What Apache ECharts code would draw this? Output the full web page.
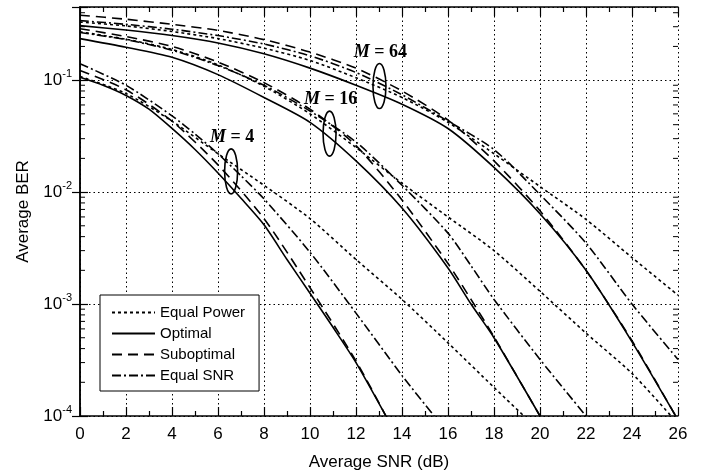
<!DOCTYPE html>
<html><head><meta charset="utf-8">
<script src="https://cdn.jsdelivr.net/npm/echarts@6/dist/echarts.min.js"></script>
<style>html,body{margin:0;padding:0;background:#fff}#c{width:702px;height:476px}</style>
</head><body><div id="c"></div>
<script>
// ---- data (x = average SNR in dB, y = average BER) ----
const schemeNames = ['Equal Power', 'Optimal', 'Suboptimal', 'Equal SNR'];

const equalPowerM4 = [[0,0.108],[2,0.076],[4,0.043],[6,0.022],[8,0.0115],[10,0.0058],[12,0.0025],[14,0.0011],[16,0.00045],[18,0.00018],[19.3,0.0001]];
const optimalM4    = [[0,0.106],[1,0.09],[2,0.073],[3,0.055],[4,0.037],[5,0.024],[6,0.0148],[7,0.0088],[8,0.0051],[9,0.0025],[10,0.00125],[11,0.00062],[12,0.0003],[13.3,0.0001]];
const suboptimalM4 = [[0,0.122],[2,0.082],[4,0.043],[6,0.0175],[8,0.0058],[10,0.0014],[12,0.00031],[13.3,0.0001]];
const equalSnrM4   = [[0,0.14],[2,0.09],[4,0.048],[5,0.033],[6,0.022],[7,0.014],[8,0.0087],[10,0.0029],[12,0.00083],[14,0.00023],[15.4,0.0001]];

const equalPowerM16 = [[0,0.27],[2,0.232],[4,0.188],[6,0.137],[8,0.088],[10,0.05],[12,0.025],[14,0.012],[16,0.006],[18,0.003],[20,0.0013],[22,0.00055],[24,0.00024],[25.7,0.0001]];
const optimalM16    = [[0,0.235],[2,0.197],[4,0.16],[6,0.112],[8,0.07],[10,0.042],[12,0.019],[14,0.0072],[16,0.0021],[17,0.001],[18,0.0005],[20,0.0001]];
const suboptimalM16 = [[0,0.288],[2,0.245],[4,0.2],[6,0.145],[8,0.095],[10,0.055],[12,0.026],[14,0.0085],[16,0.0023],[17,0.0011],[18,0.00051],[20,0.0001]];
const equalSnrM16   = [[0,0.266],[2,0.23],[4,0.185],[6,0.135],[8,0.09],[10,0.053],[12,0.028],[14,0.0115],[16,0.0043],[17,0.0022],[18,0.0011],[20,0.00032],[22,0.0001]];

const equalPowerM64 = [[0,0.33],[2,0.305],[4,0.272],[6,0.235],[8,0.193],[10,0.15],[12,0.105],[14,0.07],[16,0.042],[18,0.022],[20,0.0112],[22,0.0057],[24,0.0026],[26,0.0012]];
const optimalM64    = [[0,0.307],[2,0.28],[4,0.25],[6,0.215],[8,0.172],[10,0.128],[12,0.09],[14,0.061],[16,0.037],[18,0.0166],[20,0.0064],[22,0.002],[24,0.00046],[25.9,0.0001]];
const suboptimalM64 = [[0,0.38],[2,0.35],[4,0.315],[6,0.278],[8,0.23],[10,0.178],[12,0.128],[14,0.08],[16,0.044],[18,0.019],[20,0.0068],[22,0.002],[24,0.00047],[25.9,0.0001]];
const equalSnrM64   = [[0,0.34],[2,0.315],[4,0.285],[6,0.25],[8,0.21],[10,0.165],[12,0.117],[14,0.074],[16,0.043],[18,0.024],[20,0.0095],[22,0.0035],[24,0.001],[26,0.00032]];

const xMin = 0, xMax = 26, xStep = 2;
const yMin = 1e-4, yMax = 0.45;
const yDecades = [-4, -3, -2, -1];
const minorMultipliers = [2,3,4,5,6,7,8,9];

// annotation anchors: [snr, ber, label order]
const annotations = [[6.57, 0.0153, '4'], [10.85, 0.0333, '16'], [13.02, 0.0885, '64']];

// ---- styles ----
const DASH = {
  'Equal Power': [3, 3],
  'Optimal': 'solid',
  'Suboptimal': [10, 6],
  'Equal SNR': [9, 3, 2, 3]
};
const SANS = 'Liberation Sans, Arial, sans-serif';
const SERIF = 'Liberation Serif, Times New Roman, serif';

function lineSeries(name, data) {
  return {
    type: 'line', name: name, data: data, symbol: 'none', smooth: 0.25,
    lineStyle: { color: '#000', width: 1.6, type: DASH[name] },
    itemStyle: { color: '#000' },
    xAxisIndex: 0, yAxisIndex: 0, z: 3, silent: true
  };
}

const groups = [
  [equalPowerM4, optimalM4, suboptimalM4, equalSnrM4],
  [equalPowerM16, optimalM16, suboptimalM16, equalSnrM16],
  [equalPowerM64, optimalM64, suboptimalM64, equalSnrM64]
];
const series = [];
groups.forEach(g => g.forEach((d, i) => series.push(lineSeries(schemeNames[i], d))));

const minorYTicks = [];
yDecades.forEach(e => minorMultipliers.forEach(m => {
  const v = m * Math.pow(10, e);
  if (v < yMax) minorYTicks.push([xMin, v]);
}));

series.push({
  type: 'custom', silent: true, z: 5, clip: false,
  data: minorYTicks,
  renderItem: function (params, api) {
    const l = api.coord([xMin, api.value(1)]);
    const r = api.coord([xMax, api.value(1)]);
    const st = { stroke: '#000', lineWidth: 1 };
    return { type: 'group', children: [
      { type: 'line', shape: { x1: l[0], y1: l[1], x2: l[0] + 5, y2: l[1] }, style: st },
      { type: 'line', shape: { x1: r[0] - 5, y1: r[1], x2: r[0], y2: r[1] }, style: st }
    ]};
  }
});

series.push({
  type: 'custom', silent: true, z: 6, clip: false,
  data: annotations,
  renderItem: function (params, api) {
    const c = api.coord([api.value(0), api.value(1)]);
    const lbl = annotations[params.dataIndex][2];
    return { type: 'group', children: [
      { type: 'ellipse', shape: { cx: c[0], cy: c[1], rx: 6.5, ry: 22.5 },
        style: { fill: 'none', stroke: '#000', lineWidth: 1.6 } },
      { type: 'text', x: c[0] + 1, y: c[1] - 34,
        style: { text: '{i|M}{n| = ' + lbl + '}', align: 'center', verticalAlign: 'middle', fill: '#000',
          rich: {
            i: { fontFamily: SERIF, fontSize: 18, fontWeight: 'bold', fontStyle: 'italic', fill: '#000' },
            n: { fontFamily: SERIF, fontSize: 18, fontWeight: 'bold', fill: '#000' }
          } } }
    ]};
  }
});

function isPow10(v) { const l = Math.log10(v); return Math.abs(l - Math.round(l)) < 1e-6; }

const axisLineStyle = { show: true, lineStyle: { color: '#000', width: 1.5 } };
const gridDots = { show: true, lineStyle: { color: '#000', width: 1, type: [1.5, 3] } };

const option = {
  animation: false,
  backgroundColor: '#fff',
  grid: { left: 80, right: 24, top: 7, bottom: 58 },
  legend: {
    orient: 'vertical', left: 100, top: 295,
    padding: [10, 14, 8, 11], itemGap: 6, itemWidth: 43, itemHeight: 14,
    borderColor: '#000', borderWidth: 1, backgroundColor: '#fff',
    data: schemeNames,
    itemStyle: { opacity: 0 },
    textStyle: { fontFamily: SANS, fontSize: 15, color: '#000' },
    selectedMode: false
  },
  xAxis: [{
    type: 'value', min: xMin, max: xMax, interval: xStep, position: 'bottom',
    axisLine: axisLineStyle,
    axisTick: { inside: true, length: 9, lineStyle: { color: '#000', width: 1.2 } },
    minorTick: { show: true, splitNumber: 2, length: 5, lineStyle: { color: '#000', width: 1.2 } },
    axisLabel: { fontFamily: SANS, fontSize: 17, color: '#000', margin: 10 },
    splitLine: gridDots,
    name: 'Average SNR (dB)', nameLocation: 'middle', nameGap: 38,
    nameTextStyle: { fontFamily: SANS, fontSize: 17, color: '#000' }
  }, {
    type: 'value', min: xMin, max: xMax, interval: xStep, position: 'top',
    axisLine: axisLineStyle,
    axisTick: { inside: true, length: 9, lineStyle: { color: '#000', width: 1.2 } },
    minorTick: { show: true, splitNumber: 2, length: 5, lineStyle: { color: '#000', width: 1.2 } },
    axisLabel: { show: false }, splitLine: { show: false }
  }],
  yAxis: [{
    type: 'log', logBase: 10, min: yMin, max: yMax, position: 'left',
    axisLine: axisLineStyle,
    axisTick: { inside: true, length: 8, lineStyle: { color: '#000', width: 1.2 } },
    axisLabel: {
      margin: 8, color: '#000',
      formatter: function (v) {
        if (!isPow10(v)) return '';
        return '{b|10}{s|' + Math.round(Math.log10(v)) + '}';
      },
      rich: {
        b: { fontFamily: SANS, fontSize: 17, color: '#000' },
        s: { fontFamily: SANS, fontSize: 11, color: '#000', padding: [0, 0, 13, 0] }
      }
    },
    splitLine: gridDots,
    name: 'Average BER', nameLocation: 'middle', nameGap: 48,
    nameTextStyle: { fontFamily: SANS, fontSize: 17, color: '#000' }
  }, {
    type: 'log', logBase: 10, min: yMin, max: yMax, position: 'right',
    axisLine: axisLineStyle,
    axisTick: { inside: true, length: 8, lineStyle: { color: '#000', width: 1.2 } },
    axisLabel: { show: false }, splitLine: { show: false }
  }],
  series: series
};

const chart = echarts.init(document.getElementById('c'), null, { renderer: 'canvas' });
chart.setOption(option);
</script>
</body></html>
